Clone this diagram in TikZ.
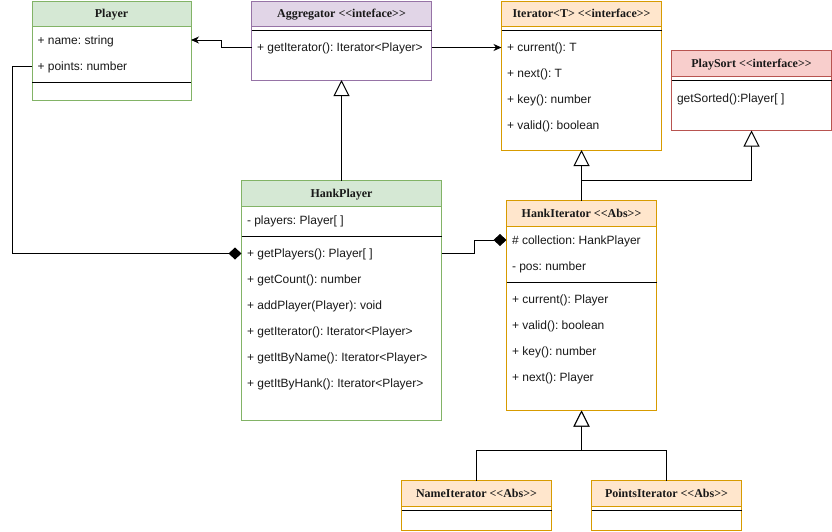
\documentclass[tikz,border=0pt]{standalone}
\usepackage{fontspec}
\newfontfamily\rowfont{Liberation Sans}
\newfontfamily\hdrfont{Liberation Serif}
\usetikzlibrary{arrows.meta}
\frenchspacing
\newcommand\stO{<\kern0pt<}
\newcommand\stC{>\kern0pt>}
\definecolor{gfill}{HTML}{D5E8D4}\definecolor{gstroke}{HTML}{82B366}
\definecolor{pfill}{HTML}{E1D5E7}\definecolor{pstroke}{HTML}{9673A6}
\definecolor{ofill}{HTML}{FFE6CC}\definecolor{ostroke}{HTML}{D79B00}
\definecolor{rfill}{HTML}{F8CECC}\definecolor{rstroke}{HTML}{B85450}
\tikzset{
  box/.style={draw, fill=white, anchor=north west, inner sep=0pt, outer sep=0pt},
  hdr/.style={draw, anchor=north west, inner sep=0pt, outer sep=0pt, text height=8pt, text depth=0pt,
    font=\hdrfont\bfseries\fontsize{12}{14}\selectfont\frenchspacing, text=black!90},
  row/.style={anchor=west, inner sep=0pt, outer sep=0pt, text height=8.6pt, text depth=0pt,
    font=\rowfont\fontsize{12}{14}\selectfont\frenchspacing, text=black!90},
  sep/.style={draw=black},
  assoc/.style={-{Stealth[length=8pt,width=7pt,inset=2.5pt]}},
  inherit/.style={-{Triangle[length=16pt,width=16pt,fill=white]}},
  comp/.style={-{Diamond[length=13pt,width=12pt]}},
}
\begin{document}
\begin{tikzpicture}[x=1pt,y=-1pt,line width=1pt,line join=miter]
\useasboundingbox (0,0) rectangle (832,531);

% Player
\node[box, draw=gstroke, minimum width=159pt, minimum height=99pt] (player) at (32,1) {};
\node[hdr, draw=gstroke, fill=gfill, minimum width=159pt, minimum height=25pt] (player-h) at (32,1) {Player};
\draw[sep] (player.west |- 0,82) -- (player.east |- 0,82);
\node[row] (player-r1) at (37.5,40) {+ name: string};
\node[row] (player-r2) at (37.5,66) {+ points: number};

% Aggregator
\node[box, draw=pstroke, minimum width=180pt, minimum height=79pt] (agg) at (251.5,1) {};
\node[hdr, draw=pstroke, fill=pfill, minimum width=180pt, minimum height=25.5pt] (agg-h) at (251.5,1) {Aggregator \stO inteface\stC};
\draw[sep] (agg.west |- 0,30.5) -- (agg.east |- 0,30.5);
\node[row] (agg-r1) at (257,47.5) {+ getIterator(): Iterator<Player>};

% Iterator
\node[box, draw=ostroke, minimum width=160pt, minimum height=149pt] (iter) at (501.5,1) {};
\node[hdr, draw=ostroke, fill=ofill, minimum width=160pt, minimum height=25.5pt] (iter-h) at (501.5,1) {Iterator<T> \stO interface\stC};
\draw[sep] (iter.west |- 0,30.5) -- (iter.east |- 0,30.5);
\node[row] (iter-r1) at (507,47.5) {+ current(): T};
\node[row] (iter-r2) at (507,73.5) {+ next(): T};
\node[row] (iter-r3) at (507,99.5) {+ key(): number};
\node[row] (iter-r4) at (507,125.5) {+ valid(): boolean};

% PlaySort
\node[box, draw=rstroke, minimum width=160pt, minimum height=80pt] (ps) at (671.5,50.5) {};
\node[hdr, draw=rstroke, fill=rfill, minimum width=160pt, minimum height=26pt] (ps-h) at (671.5,50.5) {PlaySort \stO interface\stC};
\draw[sep] (ps.west |- 0,80.5) -- (ps.east |- 0,80.5);
\node[row] (ps-r1) at (677,98.5) {getSorted():Player[ ]};

% HankPlayer
\node[box, draw=gstroke, minimum width=200pt, minimum height=240pt] (hp) at (241.5,180.5) {};
\node[hdr, draw=gstroke, fill=gfill, minimum width=200pt, minimum height=26pt] (hp-h) at (241.5,180.5) {HankPlayer};
\node[row] (hp-a1) at (247,220) {- players: Player[ ]};
\draw[sep] (hp.west |- 0,236.5) -- (hp.east |- 0,236.5);
\node[row] (hp-m1) at (247,253.5) {+ getPlayers(): Player[ ]};
\node[row] (hp-m2) at (247,279.5) {+ getCount(): number};
\node[row] (hp-m3) at (247,305.5) {+ addPlayer(Player): void};
\node[row] (hp-m4) at (247,331.5) {+ getIterator(): Iterator<Player>};
\node[row] (hp-m5) at (247,357.5) {+ getItByName(): Iterator<Player>};
\node[row] (hp-m6) at (247,383.5) {+ getItByHank(): Iterator<Player>};

% HankIterator
\node[box, draw=ostroke, minimum width=150pt, minimum height=210pt] (hi) at (506.5,200.5) {};
\node[hdr, draw=ostroke, fill=ofill, minimum width=150pt, minimum height=26pt] (hi-h) at (506.5,200.5) {HankIterator \stO Abs\stC};
\node[row] (hi-a1) at (512,240) {\# collection: HankPlayer};
\node[row] (hi-a2) at (512,266) {- pos: number};
\draw[sep] (hi.west |- 0,282.5) -- (hi.east |- 0,282.5);
\node[row] (hi-m1) at (512,299.5) {+ current(): Player};
\node[row] (hi-m2) at (512,325.5) {+ valid(): boolean};
\node[row] (hi-m3) at (512,351.5) {+ key(): number};
\node[row] (hi-m4) at (512,377.5) {+ next(): Player};

% NameIterator
\node[box, draw=ostroke, minimum width=150pt, minimum height=50pt] (ni) at (401.5,480.5) {};
\node[hdr, draw=ostroke, fill=ofill, minimum width=150pt, minimum height=26pt] (ni-h) at (401.5,480.5) {NameIterator \stO Abs\stC};
\draw[sep] (ni.west |- 0,510.5) -- (ni.east |- 0,510.5);

% PointsIterator
\node[box, draw=ostroke, minimum width=150pt, minimum height=50pt] (pi) at (591.5,480.5) {};
\node[hdr, draw=ostroke, fill=ofill, minimum width=150pt, minimum height=26pt] (pi-h) at (591.5,480.5) {PointsIterator \stO Abs\stC};
\draw[sep] (pi.west |- 0,510.5) -- (pi.east |- 0,510.5);

% Connectors
\draw[assoc] (agg.west |- agg-r1) -- ++(-30,0) |- (player.east |- player-r1);
\draw[assoc] (agg.east |- agg-r1) -- (iter.west |- agg-r1);
\draw[inherit] (hp.north) -- (agg.south);
\draw[inherit] (hi.north) -- (iter.south);
\draw[inherit] (hi.north) ++(0,-20) -| (ps.south);
\draw[comp] (player.west |- player-r2) -- ++(-20,0) |- (hp.west |- hp-m1);
\draw[comp] (hp.east |- hp-m1) -- ++(33,0) |- (hi.west |- hi-a1);
\draw[inherit] (ni.north) -- ++(0,-30) -| (hi.south);
\draw[inherit] (pi.north) -- ++(0,-30) -| (hi.south);
\end{tikzpicture}
\end{document}
